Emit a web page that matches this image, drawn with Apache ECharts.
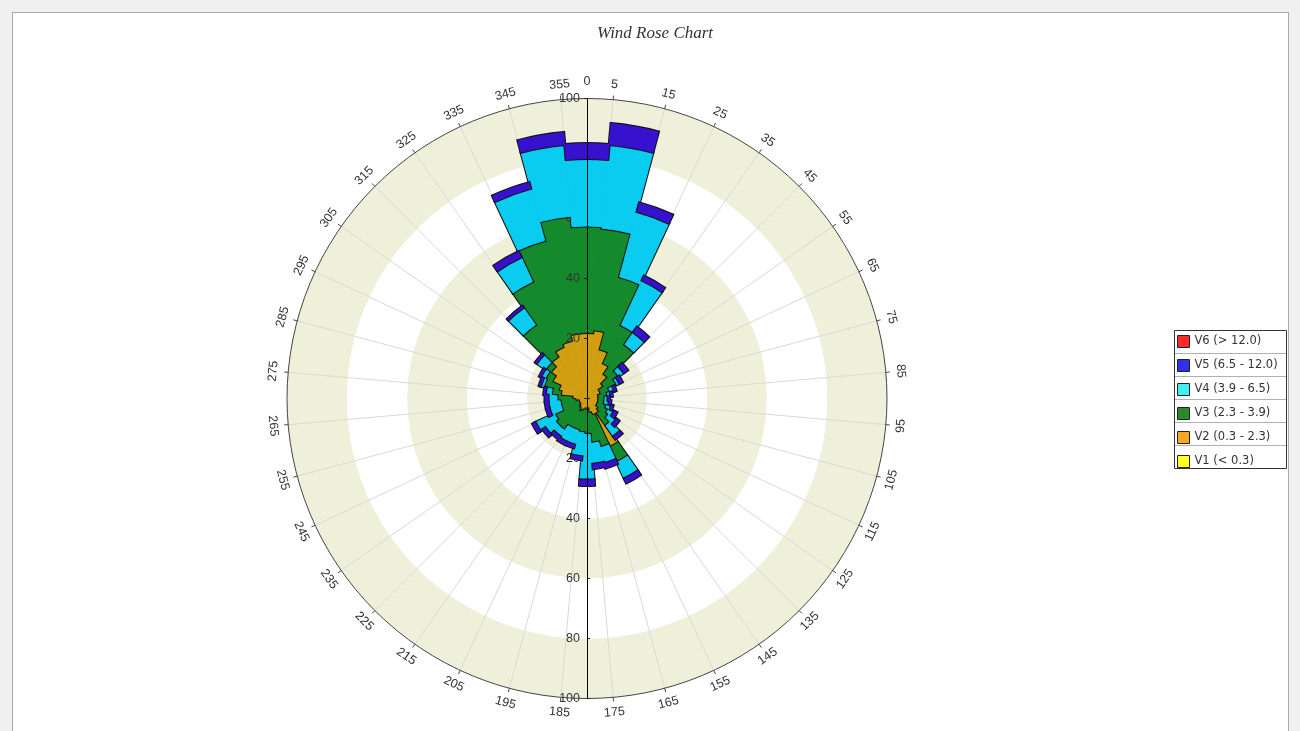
<!DOCTYPE html>
<html><head><meta charset="utf-8">
<script src="https://cdn.jsdelivr.net/npm/echarts@6.0.0/dist/echarts.min.js"></script>
<style>
html,body{margin:0;padding:0;background:#f0f0f0;width:1300px;height:731px;overflow:hidden}
#panel{position:absolute;left:12px;top:12px;width:1275px;height:740px;background:#fff;border:1px solid #a9a9a9}
#chart{position:absolute;left:0;top:0;width:1300px;height:731px}
</style></head><body><div id="panel"></div><div id="chart"></div>
<script>
// wind direction sectors (compass bearing of sector centre, degrees)
const directions = [0,10,20,30,40,50,60,70,80,90,100,110,120,130,140,150,160,170,180,190,200,210,220,230,240,250,260,270,280,290,300,310,320,330,340,350];
// frequency contribution of each speed class per sector (stacked)
const v1 = [0,0,0,0,0,0,0,0,0,0,0,0,0,0,0,0,0,0,0,0,0,0,0,0,0,0,0,0,0,0,0,0,0,0,0,0];
const v2 = [22,23,17,13,10,7,5,5,4,4,4,4,4,5,6,18,6,5,3.5,4,4.5,5,4,3.5,3,3,4,5,9,10,13,15,17,19,20,22];
const v3 = [35.5,34,25,14,12,6,6,3,3,2,2,3,4,4,5,5.5,11,10,8.5,7.5,6.5,6,9,9.5,9,6,5,5,3,5,2.5,2,13,24,34.5,39];
const v4 = [22.5,28,22.5,16.5,5,2,1,1.5,1,1,1.5,1.5,2,3,4.5,6,5.5,7,15.2,8,5,5,2.5,4,7,4,4,3,2,1,1.5,3.5,7,9,18,24];
const v5 = [5,7,3,1.5,2,1.5,1,0.5,0.5,0.5,0.5,0.5,1,1,1,1.5,1.5,1.5,1.8,1,1,1,1,1,1,1,1,1,0.5,0.5,0.5,0.5,0.5,2,2,4];
const v6 = [0,0,0,0,0,0,0,0,0,0,0,0,0,0,0,0,0,0,0,0,0,0,0,0,0,0,0,0,0,0,0,0,0,0,0,0];
const classNames = ['V1 (< 0.3)','V2 (0.3 - 2.3)','V3 (2.3 - 3.9)','V4 (3.9 - 6.5)','V5 (6.5 - 12.0)','V6 (> 12.0)'];
// tick labels
const angleLabels = [5,15,25,35,45,55,65,75,85,95,105,115,125,135,145,155,165,175,185,195,205,215,225,235,245,255,265,275,285,295,305,315,325,335,345,355];
const radiusLabels = [20,40,60,80,100];

const barColors = ['#ffff00','#d29f12','#158a2c','#0acbf0','#3612cf','#ff2020'];
const legendColors = ['#ffff20','#f8a722','#2a8a2a','#3ff0f0','#3030ee','#ff2a2a'];
const seriesData = [v1,v2,v3,v4,v5,v6];
const seriesZ = [2,2,2,4,4,4];

const C = [587, 398.5], R = 300;
const font = 'Liberation Sans';

const chart = echarts.init(document.getElementById('chart'));
const polarList = [0,1,2,3,4,5].map(() => ({center: C, radius: R}));

const radiusLabelAxis = (pi, down) => ({
  polarIndex: pi, type: 'value', min: 0, max: 100, interval: 20, z: 3,
  axisLine: {show: false},
  axisTick: {show: true, length: 3, lineStyle: {color: '#222'}},
  axisLabel: {show: true, color: '#333', fontSize: 12.5, fontFamily: font,
    margin: down ? -7 : 7, align: 'right',
    formatter: v => radiusLabels.includes(v) ? String(v) : ''},
  splitLine: {show: false}, splitArea: {show: false}
});
const radiusLineAxis = (pi) => ({
  polarIndex: pi, type: 'value', min: 0, max: 100, z: 6,
  axisLine: {show: true, lineStyle: {color: '#000', width: 1}},
  axisTick: {show: false}, axisLabel: {show: false}, splitLine: {show: false}, splitArea: {show: false}
});
const hiddenAngle = (pi, start) => ({polarIndex: pi, type: 'value', min: 0, max: 360, startAngle: start,
  axisLine: {show: false}, axisTick: {show: false}, axisLabel: {show: false}, splitLine: {show: false}});

// each class drawn twice: outlined, then plain fill on top, so only the outer
// envelope of every layer keeps a black edge
const series = [];
seriesData.forEach((d, i) => {
  const zero = (i === 0 || i === 5);
  series.push({name: classNames[i], type: 'bar', coordinateSystem: 'polar', polarIndex: 0,
    stack: 'edge', data: d, barCategoryGap: '0%', barGap: '-100%', z: seriesZ[i], silent: true,
    itemStyle: {color: barColors[i], borderColor: '#111', borderWidth: zero ? 0 : 3}});
  series.push({name: classNames[i], type: 'bar', coordinateSystem: 'polar', polarIndex: 0,
    stack: 'fill', data: d, barCategoryGap: '0%', barGap: '-100%', z: seriesZ[i], silent: true,
    itemStyle: {color: barColors[i], borderColor: barColors[i], borderWidth: zero ? 0 : 1}});
});
series.push({
  type: 'custom', coordinateSystem: 'polar', polarIndex: 1, z: 1, silent: true,
  data: angleLabels.map(a => [100, a]),
  renderItem: (params, api) => {
    const a = api.value(1);
    const p = api.coord([api.value(0), a]);
    const dx = p[0] - C[0], dy = p[1] - C[1], len = Math.hypot(dx, dy);
    let rot = a;
    if (rot > 90 && rot < 270) rot -= 180;
    return {type: 'text', x: p[0] + dx / len * 15, y: p[1] + dy / len * 15,
      rotation: -rot * Math.PI / 180,
      style: {text: String(a), align: 'center', verticalAlign: 'middle',
        font: '12.5px "Liberation Sans"', fill: '#333'}};
  }
});

const option = {
  animation: false,
  polar: polarList,
  angleAxis: [
    {polarIndex: 0, type: 'category', data: directions, startAngle: 95, z: 1,
     axisLine: {show: false}, axisTick: {show: false}, axisLabel: {show: false, interval: 0},
     splitLine: {show: true, interval: 0, lineStyle: {color: '#d9d9d9', width: 1}}},
    {polarIndex: 1, type: 'value', min: 5, max: 365, interval: 10, startAngle: 85, z: 1,
     axisLine: {show: true, lineStyle: {color: '#444', width: 1}},
     axisTick: {show: true, length: 4, lineStyle: {color: '#444'}},
     axisLabel: {show: false},
     splitLine: {show: false}},
    hiddenAngle(2, 90), hiddenAngle(3, 270), hiddenAngle(4, 90), hiddenAngle(5, 270)
  ],
  radiusAxis: [
    {polarIndex: 0, type: 'value', min: 0, max: 100, interval: 20, z: 0,
     axisLine: {show: false}, axisTick: {show: false}, axisLabel: {show: false},
     splitLine: {show: false},
     splitArea: {show: true, areaStyle: {color: ['#eff0d9', '#ffffff']}}},
    {polarIndex: 1, type: 'value', min: 0, max: 100, axisLine: {show: false}, axisTick: {show: false}, axisLabel: {show: false}, splitLine: {show: false}},
    radiusLabelAxis(2, false), radiusLabelAxis(3, true), radiusLineAxis(4), radiusLineAxis(5)
  ],
  legend: {
    orient: 'vertical', left: 1177, top: 335, padding: 0,
    itemWidth: 12, itemHeight: 12, itemGap: 11, icon: 'rect',
    itemStyle: {borderColor: '#222', borderWidth: 1},
    textStyle: {fontSize: 11.5, color: '#333', fontFamily: 'DejaVu Sans', lineHeight: 12},
    data: [5,4,3,2,1,0].map(i => ({name: classNames[i], itemStyle: {color: legendColors[i], borderColor: '#222', borderWidth: 1}}))
  },
  graphic: [
    {type: 'text', x: 655, y: 34, style: {text: 'Wind Rose Chart', align: 'center', verticalAlign: 'middle',
      font: 'italic 17px "Liberation Serif"', fill: '#333'}},
    {type: 'text', x: 587, y: 82, style: {text: '0', align: 'center', verticalAlign: 'middle',
      font: '12.5px "Liberation Sans"', fill: '#333'}},
    {type: 'rect', shape: {x: 1174.5, y: 330.5, width: 112, height: 138}, style: {fill: 'none', stroke: '#333', lineWidth: 1}},
    ...[1,2,3,4,5].map(k => ({type: 'line', shape: {x1: 1175, y1: 330.5 + 23*k, x2: 1286, y2: 330.5 + 23*k},
      style: {stroke: '#b0b0b0', lineWidth: 1}}))
  ],
  series: series
};
chart.setOption(option);
</script></body></html>
